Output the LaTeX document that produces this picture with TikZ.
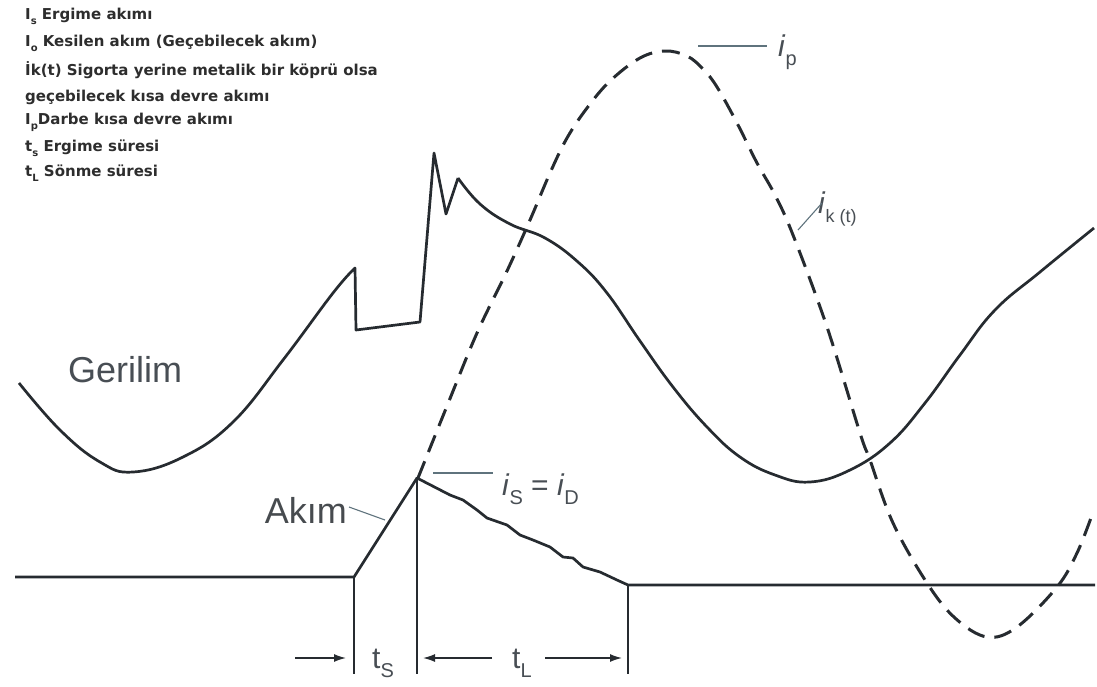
\documentclass[tikz,border=0pt]{standalone}
\usepackage{fontspec}
\setmainfont{Liberation Sans}
\newfontfamily\legfont{DejaVu Sans}
\usetikzlibrary{arrows.meta}
\definecolor{ink}{RGB}{38,43,48}
\definecolor{lblc}{RGB}{72,78,84}
\definecolor{leadc}{RGB}{95,115,125}
\definecolor{legc}{RGB}{45,45,45}
\tikzset{
  curve/.style={draw=ink, line width=2.7pt, line join=round},
  dashcurve/.style={draw=ink, line width=3pt, dash pattern=on 18pt off 10pt},
  leader/.style={draw=leadc, line width=1.1pt},
  marker/.style={draw=ink, line width=2.2pt},
  dimarrow/.style={draw=ink, line width=1.4pt, -{Latex[length=12pt,width=8pt]}},
  big/.style={text=lblc, font=\fontsize{36}{40}\selectfont, inner sep=0pt},
  mid/.style={text=lblc, font=\fontsize{30}{34}\selectfont, inner sep=0pt},
  leg/.style={text=legc, font=\legfont\bfseries\fontsize{15}{18}\selectfont, anchor=west, inner sep=0pt}
}
\newcommand{\subtxt}[2][20]{\raisebox{-0.32em}{\fontsize{#1}{#1}\selectfont #2}}
\begin{document}
\begin{tikzpicture}[x=1pt,y=-1pt]
\useasboundingbox (0,0) rectangle (1097,686);

% legend
\node[leg] (l1) at (25,16) {I\subtxt[10]{s} Ergime akımı};
\node[leg] (l2) at (25,43) {I\subtxt[10]{o} Kesilen akım (Geçebilecek akım)};
\node[leg] (l3) at (25,70) {İk(t) Sigorta yerine metalik bir köprü olsa};
\node[leg] (l4) at (25,97) {geçebilecek kısa devre akımı};
\node[leg] (l5) at (25,122) {I\subtxt[10]{p}Darbe kısa devre akımı};
\node[leg] (l6) at (25,148) {t\subtxt[10]{s} Ergime süresi};
\node[leg] (l7) at (25,173) {t\subtxt[10]{L} Sönme süresi};

% voltage curve
\draw[curve] plot[smooth, tension=0.7] coordinates {(19,383) (60,430) (100,462) (133,472) (183,457) (233,422) (283,360) (333,293) (355,268)}
  -- (356,330) -- (420,322) -- (434,153) -- (446,214) -- (458,178)
  plot[smooth, tension=0.7] coordinates {(458,178) (480,204) (510,224) (545,238) (578,262) (607,293) (640,341) (673,387) (707,427) (740,457) (775,475) (810,482) (850,470) (890,443) (925,403) (960,355) (995,310) (1040,272) (1094,228)};

% prospective short-circuit current (dashed)
\draw[dashcurve] plot[smooth, tension=0.6] coordinates {(418,478) (447,406) (477,333) (507,271) (530,220) (550,173) (567,138) (587,108) (610,81) (640,58) (665,51) (687,56) (703,69) (717,87) (737,123) (757,163) (775,195) (793,235) (827,327) (860,433) (870,460) (893,523) (927,583) (955,618) (987,637) (1017,627) (1057,587) (1077,553) (1092,515)};

% current curve
\coordinate (c0) at (15,577);
\coordinate (c1) at (354,577);
\coordinate (cp) at (417,478);
\coordinate (c2) at (628,585);
\coordinate (c3) at (1095,585);
\draw[curve] (c0) -- (c1) -- (cp) -- (450,495) -- (463,500) -- (477,510) -- (487,518) -- (507,525) -- (520,535) -- (533,540) -- (550,547) -- (563,557) -- (573,558) -- (583,567) -- (600,572) -- (617,580) -- (c2) -- (c3);

% time markers
\coordinate (m1b) at (354,674);
\coordinate (m2b) at (417,674);
\coordinate (m3b) at (628,674);
\draw[marker] (c1) -- (m1b);
\draw[marker] (cp) -- (m2b);
\draw[marker] (c2) -- (m3b);

\coordinate (a0) at (295,658);
\coordinate (a1) at (346,658);
\coordinate (b0) at (492,658);
\coordinate (b1) at (423,658);
\coordinate (b2) at (545,658);
\coordinate (b3) at (622,658);
\draw[dimarrow] (a0) -- (a1);
\draw[dimarrow] (b0) -- (b1);
\draw[dimarrow] (b2) -- (b3);

\node[mid, anchor=base west] (ts) at (372,668) {t\subtxt{S}};
\node[mid, anchor=base west] (tl) at (512,668) {t\subtxt{L}};

% labels
\node[big, anchor=west] (ger) at (68,370) {Gerilim};
\node[big, anchor=east, text=ink!85] (akim) at (347,510) {Akım};
\coordinate (ak0) at (349,507);
\coordinate (ak1) at (385,520);
\draw[leader] (ak0) -- (ak1);

\node[mid, anchor=base west] (isid) at (502,495) {\textit{i}\subtxt{S} = \textit{i}\subtxt{D}};
\coordinate (is0) at (433,473);
\coordinate (is1) at (493,473);
\draw[leader] (is0) -- (is1);

\node[mid, anchor=base west] (ip) at (778,56) {\textit{i}\subtxt{p}};
\coordinate (ip0) at (698,46);
\coordinate (ip1) at (767,46);
\draw[leader] (ip0) -- (ip1);

\node[mid, anchor=base west] (ik) at (818,213) {\textit{i}\subtxt[18]{k (t)}};
\coordinate (ik0) at (798,230);
\coordinate (ik1) at (822,203);
\draw[leader] (ik0) -- (ik1);
\end{tikzpicture}
\end{document}
